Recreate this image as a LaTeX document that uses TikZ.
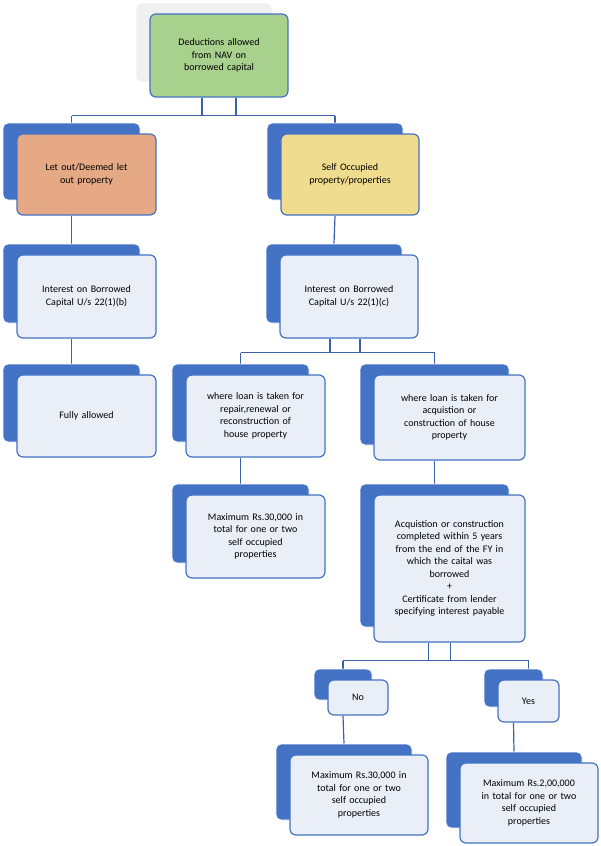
\documentclass[tikz,border=0pt]{standalone}
\usepackage{fontspec}
\setmainfont{Carlito}
\usetikzlibrary{backgrounds}
\definecolor{bblue}{HTML}{4472C4}
\definecolor{fr}{HTML}{EAEFF7}
\definecolor{gr}{HTML}{A9D18E}
\definecolor{og}{HTML}{E6A985}
\definecolor{ye}{HTML}{F0DC8F}
\tikzset{
 back/.style={draw=white,fill=bblue,rounded corners=5pt,line width=0.8pt,inner sep=0pt},
 front/.style={draw=bblue,line width=1.2pt,rounded corners=6pt,align=center,font=\fontsize{10}{12.5}\selectfont,inner sep=2pt},
 conn/.style={draw=bblue!85!black,line width=1.2pt},
}
\newcommand\bxf[8][bblue]{%
 \node[back,fill=#1,minimum width={#5-2pt},minimum height={#6-4pt}] (#2b) at ({#3-15},{#4-13}) {};
 \node[front,fill=#7,minimum width=#5,minimum height=#6,text width={#5-14pt}] (#2) at (#3,#4) {#8};}
\begin{document}
\begin{tikzpicture}[x=1pt,y=-1pt]
\useasboundingbox (0,0) rectangle (600,846);
% boxes
\bxf[black!6]{top}{219}{55.5}{138pt}{83pt}{gr}{Deductions allowed\\from NAV on\\borrowed capital}
\bxf{lo}{86.5}{174.5}{139pt}{81pt}{og}{Let out/Deemed let\\out property}
\bxf{so}{350}{174.5}{138pt}{81pt}{ye}{Self Occupied\\property/properties}
\bxf{ib}{86.5}{296.5}{139pt}{83pt}{fr}{Interest on Borrowed\\Capital U/s 22(1)(b)}
\bxf{ic}{349}{296.5}{138pt}{83pt}{fr}{Interest on Borrowed\\Capital U/s 22(1)(c)}
\bxf{fa}{86.5}{416}{139pt}{82pt}{fr}{Fully allowed}
\bxf{rp}{255.5}{416}{139pt}{82pt}{fr}{where loan is taken for\\repair,renewal or\\reconstruction of\\house property}
\bxf{aq}{449.5}{417.5}{151pt}{85pt}{fr}{where loan is taken for\\acquistion or\\construction of house\\property}
\bxf{m1}{255.5}{536.5}{139pt}{83pt}{fr}{Maximum Rs.30,000 in\\total for one or two\\self occupied\\properties}
\bxf{cc}{449.5}{568.5}{151pt}{147pt}{fr}{Acquistion or construction\\completed within 5 years\\from the end of the FY in\\which the caital was\\borrowed\\+\\Certificate from lender\\specifying interest payable}
\bxf{no}{358}{697.5}{60pt}{35pt}{fr}{No}
\bxf{yes}{528.5}{701}{61pt}{42pt}{fr}{Yes}
\bxf{m2}{359}{795}{138pt}{80pt}{fr}{Maximum Rs.30,000 in\\total for one or two\\self occupied\\properties}
\bxf{m3}{529}{803}{138pt}{80pt}{fr}{Maximum Rs.2,00,000\\in total for one or two\\self occupied\\properties}
% connectors
\begin{scope}[on background layer]
\draw[conn] ([xshift=-17pt]top.south) -- ++(0,18) coordinate (h1);
\draw[conn] ([xshift=17pt]top.south) -- ++(0,18);
\draw[conn] (h1 -| lob.north) -- (h1 -| sob.north);
\draw[conn] (h1 -| lob.north) -- (lob.north);
\draw[conn] (h1 -| sob.north) -- (sob.north);
\draw[conn] (lob |- lo.south) -- (ibb.north);
\draw[conn] (sob |- so.south) -- (icb.north);
\draw[conn] (ibb |- ib.south) -- (fab.north);
\draw[conn] ([xshift=-19pt]ic.south) -- ++(0,14) coordinate (h2);
\draw[conn] ([xshift=11pt]ic.south) -- ++(0,14);
\draw[conn] (h2 -| rpb.north) -- (h2 -| aqb.north);
\draw[conn] (h2 -| rpb.north) -- (rpb.north);
\draw[conn] (h2 -| aqb.north) -- (aqb.north);
\draw[conn] (rpb |- rp.south) -- (m1b.north);
\draw[conn] (aqb |- aq.south) -- (ccb.north);
\draw[conn] ([xshift=-21pt]cc.south) -- ++(0,18) coordinate (h3);
\draw[conn] ([xshift=1pt]cc.south) -- ++(0,18);
\draw[conn] (h3 -| nob.north) -- (h3 -| yes.north);
\draw[conn] (h3 -| nob.north) -- (nob.north);
\draw[conn] (h3 -| yes.north) -- (yes.north);
\draw[conn] (nob |- no.south) -- (m2b.north);
\draw[conn] (yesb |- yes.south) -- (m3b.north);
\end{scope}
\end{tikzpicture}
\end{document}
